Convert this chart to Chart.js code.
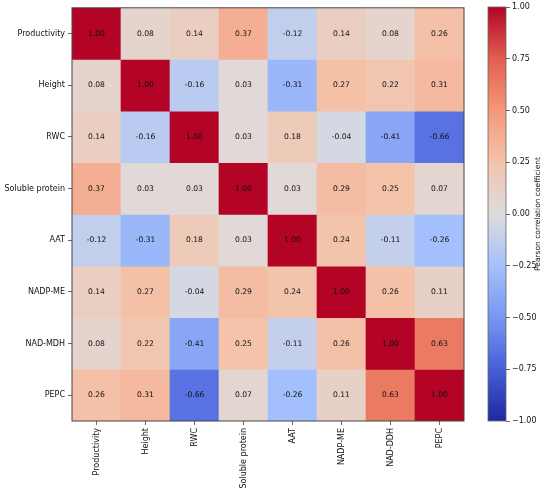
<!DOCTYPE html>
<html>
<head>
<meta charset="utf-8">
<script src="https://cdn.jsdelivr.net/npm/chart.js@4.4.1/dist/chart.umd.min.js"></script>
<style>
html,body{margin:0;padding:0;background:#fff;}
#wrap{position:relative;width:550px;height:496px;overflow:hidden;}
#main{position:absolute;left:0;top:0;}
#cbar{position:absolute;left:470px;top:0;}
</style>
</head>
<body>
<div id="wrap">
<canvas id="main" width="480" height="496" style="width:480px;height:496px"></canvas>
<canvas id="cbar" width="80" height="496" style="width:80px;height:496px"></canvas>
</div>
<script>
// ---- Data ----
const rowLabels = ["Productivity","Height","RWC","Soluble protein","AAT","NADP-ME","NAD-MDH","PEPC"];
const colLabels = ["Productivity","Height","RWC","Soluble protein","AAT","NADP-ME","NAD-DDH","PEPC"];
const rowProductivity = [1.00, 0.08, 0.14, 0.37, -0.12, 0.14, 0.08, 0.26];
const rowHeight       = [0.08, 1.00, -0.16, 0.03, -0.31, 0.27, 0.22, 0.31];
const rowRWC          = [0.14, -0.16, 1.00, 0.03, 0.18, -0.04, -0.41, -0.66];
const rowSoluble      = [0.37, 0.03, 0.03, 1.00, 0.03, 0.29, 0.25, 0.07];
const rowAAT          = [-0.12, -0.31, 0.18, 0.03, 1.00, 0.24, -0.11, -0.26];
const rowNADPME       = [0.14, 0.27, -0.04, 0.29, 0.24, 1.00, 0.26, 0.11];
const rowNADMDH       = [0.08, 0.22, -0.41, 0.25, -0.11, 0.26, 1.00, 0.63];
const rowPEPC         = [0.26, 0.31, -0.66, 0.07, -0.26, 0.11, 0.63, 1.00];
const colorbarTicks   = [1.00, 0.75, 0.50, 0.25, 0.00, -0.25, -0.50, -0.75, -1.00];
const colorbarTitle   = "Pearson correlation coefficient";

const matrixRows = [rowProductivity,rowHeight,rowRWC,rowSoluble,rowAAT,rowNADPME,rowNADMDH,rowPEPC];

// ---- diverging blue-grey-red colormap (coolwarm-like), stops at -1..1 step 0.25 ----
const cwStops = ["#1e28a0","#465fd7","#7896f3","#a5c1fc","#dddcde","#f4c3aa","#f5987a","#e15f4e","#b40426"];
function hex2rgb(h){return [parseInt(h.slice(1,3),16),parseInt(h.slice(3,5),16),parseInt(h.slice(5,7),16)];}
const cwRGB = cwStops.map(hex2rgb);
function coolwarm(v){ // v in [-1,1]
  let t = (v+1)/2; t = Math.max(0,Math.min(1,t));
  const p = t*(cwRGB.length-1); const i = Math.min(Math.floor(p), cwRGB.length-2); const f = p-i;
  const a = cwRGB[i], b = cwRGB[i+1];
  const c = a.map((x,k)=>Math.round(x+(b[k]-x)*f));
  return `rgb(${c[0]},${c[1]},${c[2]})`;
}

const FONT = "'DejaVu Sans', sans-serif";
const AXIS_COLOR = '#444';

const datasets = matrixRows.map((row, r) => ({
  label: rowLabels[r],
  data: row.map(() => [r - 0.5, r + 0.5]),
  values: row,
  backgroundColor: row.map(v => coolwarm(v)),
  borderWidth: 0,
  barPercentage: 1.0,
  categoryPercentage: 1.0,
  grouped: false
}));

const frame = {
  id: 'frame',
  afterDraw(chart, args, opts){
    const {ctx, chartArea:a} = chart;
    ctx.save();
    ctx.strokeStyle = opts.color || AXIS_COLOR;
    ctx.lineWidth = opts.width || 1;
    ctx.strokeRect(a.left, a.top, a.right - a.left, a.bottom - a.top);
    ctx.restore();
  }
};

const cellText = {
  id: 'cellText',
  afterDatasetsDraw(chart){
    const ctx = chart.ctx;
    ctx.save();
    ctx.font = "7.6px " + FONT;
    ctx.fillStyle = '#111';
    ctx.textAlign = 'center';
    ctx.textBaseline = 'middle';
    chart.data.datasets.forEach((ds, di) => {
      const meta = chart.getDatasetMeta(di);
      meta.data.forEach((el, j) => {
        const cy = (el.y + el.base) / 2;
        ctx.fillText(ds.values[j].toFixed(2), el.x, cy);
      });
    });
    ctx.restore();
  }
};

new Chart(document.getElementById('main'), {
  type: 'bar',
  data: { labels: colLabels, datasets },
  options: {
    responsive: false,
    animation: false,
    layout: { padding: { top: 7, right: 16, bottom: 0, left: 0 } },
    plugins: { legend: { display: false }, tooltip: { enabled: false }, frame: { color: AXIS_COLOR, width: 1 } },
    scales: {
      x: {
        type: 'category',
        offset: true,
        grid: { display: true, drawOnChartArea: false, drawTicks: true, tickLength: 4, offset: false, color: AXIS_COLOR, lineWidth: 0.8 },
        border: { display: false },
        ticks: { color: '#111', font: { family: FONT, size: 8 }, minRotation: 90, maxRotation: 90, padding: 3, autoSkip: false },
        afterFit(scale){ scale.height = 75; }
      },
      y: {
        type: 'linear',
        reverse: true,
        min: -0.5,
        max: 7.5,
        grid: { display: true, drawOnChartArea: false, drawTicks: true, tickLength: 4, color: AXIS_COLOR, lineWidth: 0.8 },
        border: { display: false },
        afterBuildTicks(scale){ scale.ticks = rowLabels.map((_, i) => ({ value: i })); },
        ticks: { color: '#111', font: { family: FONT, size: 8 }, padding: 3, autoSkip: false,
                 callback: (v) => rowLabels[v] !== undefined ? rowLabels[v] : '' },
        afterFit(scale){ scale.width = 72; }
      }
    }
  },
  plugins: [cellText, frame]
});

// ---- Colorbar ----
const cbTitle = {
  id: 'cbTitle',
  afterDraw(chart){
    const {ctx, chartArea:a} = chart;
    ctx.save();
    ctx.font = "7.5px " + FONT;
    ctx.fillStyle = '#111';
    ctx.textAlign = 'center';
    ctx.textBaseline = 'middle';
    ctx.translate(68, (a.top + a.bottom) / 2);
    ctx.rotate(-Math.PI / 2);
    ctx.fillText(colorbarTitle, 0, 0);
    ctx.restore();
  }
};

new Chart(document.getElementById('cbar'), {
  type: 'bar',
  data: {
    labels: [''],
    datasets: [{
      data: [[colorbarTicks[colorbarTicks.length-1], colorbarTicks[0]]],
      borderWidth: 0,
      barPercentage: 1.0,
      categoryPercentage: 1.0,
      backgroundColor(context){
        const chart = context.chart; const a = chart.chartArea;
        if (!a) return '#ccc';
        const g = chart.ctx.createLinearGradient(0, a.bottom, 0, a.top);
        cwStops.forEach((c, i) => g.addColorStop(i / (cwStops.length - 1), c));
        return g;
      }
    }]
  },
  options: {
    responsive: false,
    animation: false,
    layout: { padding: { top: 7, right: 0, bottom: 75, left: 18 } },
    plugins: { legend: { display: false }, tooltip: { enabled: false }, frame: { color: '#666', width: 0.8 } },
    scales: {
      x: { display: false },
      y: {
        position: 'right',
        min: -1, max: 1,
        grid: { display: true, drawOnChartArea: false, drawTicks: true, tickLength: 4, color: AXIS_COLOR, lineWidth: 0.8 },
        border: { display: false },
        afterBuildTicks(scale){ scale.ticks = colorbarTicks.map(v => ({ value: v })); },
        ticks: { color: '#111', font: { family: FONT, size: 8 }, padding: 2, autoSkip: false,
                 callback: (v) => (v < 0 ? '\u2212' : '') + Math.abs(v).toFixed(2) },
        afterFit(scale){ scale.width = 44; }
      }
    }
  },
  plugins: [frame, cbTitle]
});
</script>
</body>
</html>
